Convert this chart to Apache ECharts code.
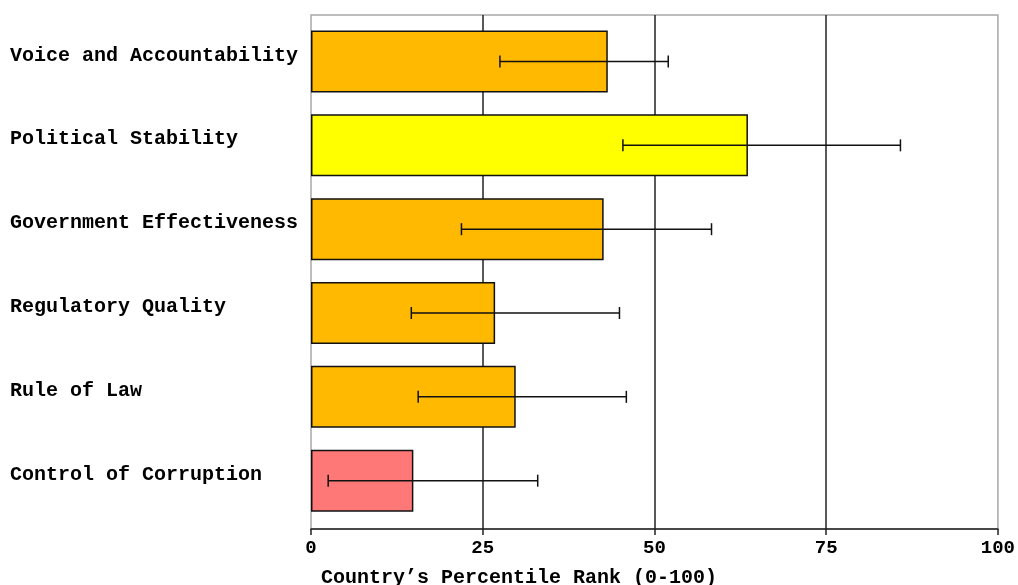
<!DOCTYPE html>
<html>
<head>
<meta charset="utf-8">
<script src="https://cdn.jsdelivr.net/npm/echarts@6/dist/echarts.min.js"></script>
<style>
html,body{margin:0;padding:0;background:#fff;}
#chart{width:1018px;height:585px;}
</style>
</head>
<body>
<div id="chart"></div>
<script>
var categories = ['Voice and Accountability','Political Stability','Government Effectiveness','Regulatory Quality','Rule of Law','Control of Corruption'];
var rankValues = [43.2, 63.6, 42.6, 26.8, 29.8, 14.9];
var lowerBounds = [27.5, 45.4, 21.9, 14.6, 15.6, 2.5];
var upperBounds = [52.0, 85.8, 58.3, 44.9, 45.9, 33.0];
var barColors = ['#FFB900','#FFFF00','#FFB900','#FFB900','#FFB900','#FF7878'];
var xTicks = [0, 25, 50, 75, 100];
var axisTitle = 'Country\u2019s Percentile Rank (0-100)';

var FONT = '"Liberation Mono","DejaVu Sans Mono",monospace';

var errData = categories.map(function(c, i){ return [i, lowerBounds[i], upperBounds[i]]; });
var barData = rankValues.map(function(v, i){
  return {value: v, itemStyle: {color: barColors[i]}};
});

var chart = echarts.init(document.getElementById('chart'), null, {renderer:'canvas'});
chart.setOption({
  animation: false,
  backgroundColor: '#fff',
  title: {
    text: axisTitle,
    left: 316, top: 563,
    textStyle: {fontFamily: FONT, fontWeight: 'bold', fontSize: 20, color: '#000'}
  },
  grid: [
    {left: 311, top: 15, width: 687, height: 514, show: true, borderColor: '#a8a8a8', borderWidth: 1.5, backgroundColor: 'transparent'},
    {left: 311, top: 19.6, width: 687, height: 503}
  ],
  xAxis: [
    {
      type: 'value', gridIndex: 0, min: 0, max: 100, interval: 25,
      axisLine: {show: true, lineStyle: {color: '#222', width: 1.5}},
      axisTick: {show: true, length: 6, lineStyle: {color: '#222', width: 1.5}},
      axisLabel: {
        margin: 10, color: '#000', fontFamily: FONT, fontWeight: 'bold', fontSize: 19,
        formatter: function(v){ return xTicks.indexOf(v) >= 0 ? String(v) : ''; }
      },
      splitLine: {show: true, showMinLine: false, showMaxLine: false, lineStyle: {color: '#222', width: 1.5}}
    },
    {
      type: 'value', gridIndex: 1, min: 0, max: 100,
      show: false
    }
  ],
  yAxis: [
    {type: 'category', gridIndex: 0, data: categories, show: false},
    {
      type: 'category', gridIndex: 1, data: categories, inverse: true,
      axisLine: {show: false}, axisTick: {show: false},
      axisLabel: {
        show: true, align: 'left', margin: 301, color: '#000',
        fontFamily: FONT, fontWeight: 'bold', fontSize: 20,
        verticalAlign: 'bottom', lineHeight: 12
      },
      splitLine: {show: false}
    }
  ],
  series: [
    {
      type: 'bar', xAxisIndex: 1, yAxisIndex: 1,
      data: barData, barWidth: 62,
      itemStyle: {borderColor: '#111', borderWidth: 1.5},
      z: 3
    },
    {
      type: 'custom', xAxisIndex: 1, yAxisIndex: 1,
      data: errData, z: 5,
      renderItem: function(params, api){
        var idx = api.value(0);
        var lo = api.coord([api.value(1), idx]);
        var hi = api.coord([api.value(2), idx]);
        var h = 6;
        var st = {stroke: '#111', lineWidth: 1.5};
        return {
          type: 'group',
          children: [
            {type: 'line', shape: {x1: lo[0], y1: lo[1], x2: hi[0], y2: hi[1]}, style: st},
            {type: 'line', shape: {x1: lo[0], y1: lo[1]-h, x2: lo[0], y2: lo[1]+h}, style: st},
            {type: 'line', shape: {x1: hi[0], y1: hi[1]-h, x2: hi[0], y2: hi[1]+h}, style: st}
          ]
        };
      }
    }
  ]
});
</script>
</body>
</html>
